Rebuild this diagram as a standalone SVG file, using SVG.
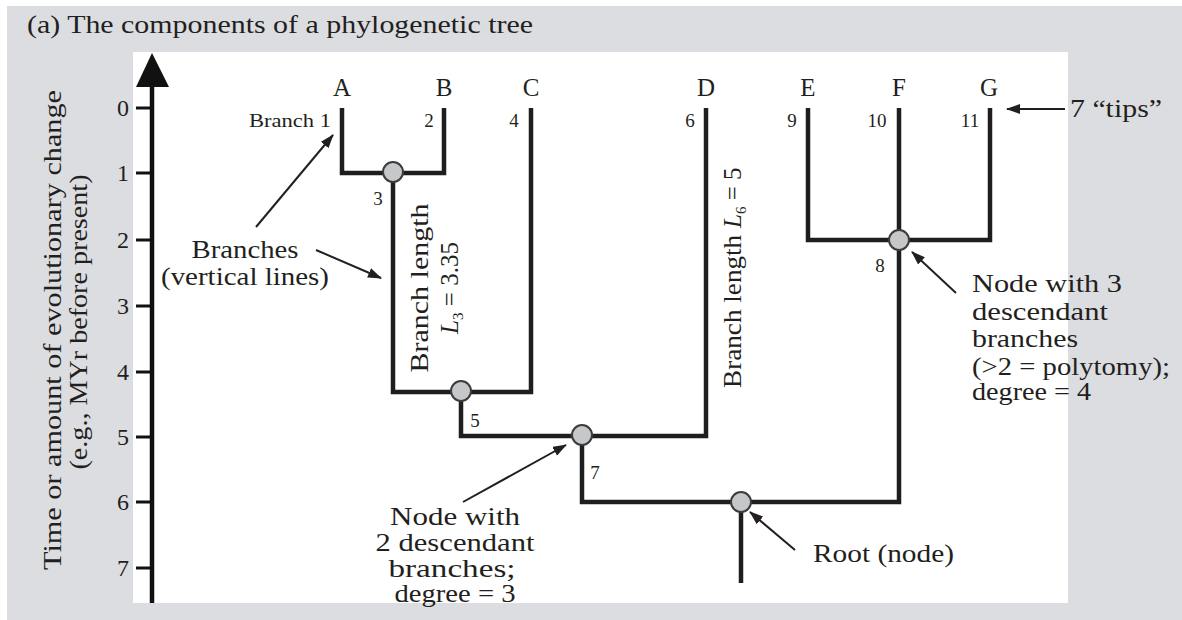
<svg xmlns="http://www.w3.org/2000/svg" width="1182" height="620" viewBox="0 0 1182 620">
<style>
text{font-family:"Liberation Serif","Times New Roman",serif;fill:#231f20}
.lbl{font-size:25px}
.tip{font-size:25px;text-anchor:middle}
.num{font-size:19px}
.tick{font-size:24px;text-anchor:middle}
.ax{font-size:26px;text-anchor:middle}
.br{fill:none;stroke:#1e1e1e;stroke-width:4.5;stroke-linejoin:miter;stroke-linecap:butt}
.nd{fill:#c6c7c9;stroke:#3c3c3c;stroke-width:2}
.con{stroke:#231f20;stroke-width:2;fill:none}
.mid{text-anchor:middle}
</style>
<defs>
<marker id="ah" markerWidth="14" markerHeight="10" refX="13" refY="5" orient="auto" markerUnits="userSpaceOnUse">
<path d="M0,0 L14,5 L0,10 Z" fill="#231f20"/>
</marker>
</defs>
<rect x="7" y="6" width="1175" height="614" fill="#dcdde0"/>
<rect x="133" y="52" width="935" height="551" fill="#ffffff"/>
<text x="27" y="33" font-size="26" textLength="506" lengthAdjust="spacingAndGlyphs">(a) The components of a phylogenetic tree</text>

<g id="axis">
<line x1="152" y1="85" x2="152" y2="603" stroke="#111" stroke-width="4.5"/>
<polygon points="152,53 136,87 169,87" fill="#111"/>
<g stroke="#111" stroke-width="3">
<line x1="136" y1="108" x2="152" y2="108"/>
<line x1="136" y1="173" x2="152" y2="173"/>
<line x1="136" y1="240" x2="152" y2="240"/>
<line x1="136" y1="306" x2="152" y2="306"/>
<line x1="136" y1="372" x2="152" y2="372"/>
<line x1="136" y1="437" x2="152" y2="437"/>
<line x1="136" y1="502" x2="152" y2="502"/>
<line x1="136" y1="568" x2="152" y2="568"/>
</g>
<text class="tick" x="123" y="116">0</text>
<text class="tick" x="123" y="181">1</text>
<text class="tick" x="123" y="248">2</text>
<text class="tick" x="123" y="314">3</text>
<text class="tick" x="123" y="380">4</text>
<text class="tick" x="123" y="445">5</text>
<text class="tick" x="123" y="510">6</text>
<text class="tick" x="123" y="576">7</text>
<text class="ax" transform="translate(61,330) rotate(-90)" textLength="480" lengthAdjust="spacingAndGlyphs">Time or amount of evolutionary change</text>
<text class="ax" transform="translate(87,322) rotate(-90)" textLength="295" lengthAdjust="spacingAndGlyphs">(e.g., MYr before present)</text>
</g>

<g id="connectors">
<path class="br" d="M342,108 V173 H444 V108"/>
<path class="br" d="M393,173 V392 H531 V108"/>
<path class="br" d="M461,392 V436 H706 V108"/>
<path class="br" d="M582,436 V502 H899 V240"/>
<path class="br" d="M741,502 V583"/>
<path class="br" d="M808,108 V240 H990 V108"/>
<path class="br" d="M899,108 V240"/>
<line class="con" x1="256" y1="227" x2="333" y2="135" marker-end="url(#ah)"/>
<line class="con" x1="316" y1="250" x2="381" y2="278" marker-end="url(#ah)"/>
<line class="con" x1="463" y1="502" x2="566" y2="445" marker-end="url(#ah)"/>
<line class="con" x1="956" y1="293" x2="912" y2="252" marker-end="url(#ah)"/>
<line class="con" x1="795" y1="550" x2="750" y2="512" marker-end="url(#ah)"/>
<line class="con" x1="1065" y1="109" x2="1007" y2="109" marker-end="url(#ah)"/>
</g>

<g id="tipA"><text class="tip" x="342" y="96">A</text><text class="num" x="331" y="127" text-anchor="end" textLength="82" lengthAdjust="spacingAndGlyphs">Branch 1</text></g>
<g id="tipB"><text class="tip" x="444" y="96">B</text><text class="num mid" x="429" y="127">2</text></g>
<g id="tipC"><text class="tip" x="531" y="96">C</text><text class="num mid" x="514" y="127">4</text></g>
<g id="tipD"><text class="tip" x="706" y="96">D</text><text class="num mid" x="690" y="127">6</text></g>
<g id="tipE"><text class="tip" x="808" y="96">E</text><text class="num mid" x="792" y="127">9</text></g>
<g id="tipF"><text class="tip" x="899" y="96">F</text><text class="num mid" x="877" y="127">10</text></g>
<g id="tipG"><text class="tip" x="989" y="96">G</text><text class="num mid" x="970" y="127">11</text></g>

<g id="node3"><circle class="nd" cx="393" cy="172" r="10"/><text class="num mid" x="378" y="205">3</text></g>
<g id="node5"><circle class="nd" cx="461" cy="391" r="10"/><text class="num mid" x="475" y="427">5</text></g>
<g id="node7"><circle class="nd" cx="582" cy="435" r="10"/><text class="num mid" x="595" y="479">7</text></g>
<g id="node8"><circle class="nd" cx="899" cy="240" r="10"/><text class="num mid" x="880" y="272">8</text></g>
<g id="root"><circle class="nd" cx="741" cy="502" r="10"/></g>

<g id="branchLen3">
<text class="lbl mid" transform="translate(428,288) rotate(-90)" textLength="169" lengthAdjust="spacingAndGlyphs">Branch length</text>
<text class="lbl mid" transform="translate(458,288) rotate(-90)"><tspan font-style="italic">L</tspan><tspan font-size="15" dy="5">3</tspan><tspan dy="-5"> = 3.35</tspan></text>
</g>
<g id="branchLen6">
<text class="lbl" transform="translate(741,388) rotate(-90)"><tspan textLength="160" lengthAdjust="spacingAndGlyphs">Branch length </tspan><tspan font-style="italic">L</tspan><tspan font-size="15" dy="5">6</tspan><tspan dy="-5"> = 5</tspan></text>
</g>

<g id="labelBranches">
<text class="lbl mid" x="245" y="258" textLength="107" lengthAdjust="spacingAndGlyphs">Branches</text>
<text class="lbl mid" x="245" y="285" textLength="168" lengthAdjust="spacingAndGlyphs">(vertical lines)</text>
</g>
<g id="labelNode2">
<text class="lbl mid" x="455" y="525" textLength="130" lengthAdjust="spacingAndGlyphs">Node with</text>
<text class="lbl mid" x="455" y="551" textLength="159" lengthAdjust="spacingAndGlyphs">2 descendant</text>
<text class="lbl mid" x="452" y="577" textLength="127" lengthAdjust="spacingAndGlyphs">branches;</text>
<text class="lbl mid" x="455" y="602" textLength="121" lengthAdjust="spacingAndGlyphs">degree = 3</text>
</g>
<g id="labelNode3">
<text class="lbl" x="972" y="292" textLength="150" lengthAdjust="spacingAndGlyphs">Node with 3</text>
<text class="lbl" x="972" y="320" textLength="136" lengthAdjust="spacingAndGlyphs">descendant</text>
<text class="lbl" x="972" y="347" textLength="106" lengthAdjust="spacingAndGlyphs">branches</text>
<text class="lbl" x="972" y="375" textLength="198" lengthAdjust="spacingAndGlyphs">(&gt;2 = polytomy);</text>
<text class="lbl" x="972" y="400" textLength="119" lengthAdjust="spacingAndGlyphs">degree = 4</text>
</g>
<g id="labelRoot"><text class="lbl" x="813" y="562" textLength="141" lengthAdjust="spacingAndGlyphs">Root (node)</text></g>
<g id="labelTips"><text class="lbl" x="1070" y="117" textLength="92" lengthAdjust="spacingAndGlyphs">7 “tips”</text></g>
</svg>
